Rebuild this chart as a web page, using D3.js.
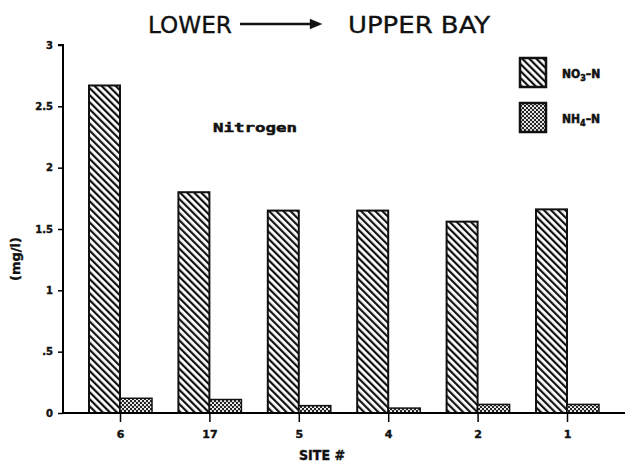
<!DOCTYPE html>
<html>
<head>
<meta charset="utf-8">
<script src="https://cdn.jsdelivr.net/npm/d3@7"></script>
<style>
  body { margin: 0; background: #fff; }
  svg { display: block; }
  text { fill: #111; }
</style>
</head>
<body>
<svg id="chart" width="627" height="464"></svg>
<script>
// sites, lower bay -> upper bay
const sites = ['6', '17', '5', '4', '2', '1'];
const no3 = [2.67, 1.80, 1.65, 1.65, 1.56, 1.66];
const nh4 = [0.12, 0.11, 0.06, 0.04, 0.07, 0.07];
const yTicks = [0, 0.5, 1, 1.5, 2, 2.5, 3];
const yTickLabels = ['0', '.5', '1', '1.5', '2', '2.5', '3'];

const svg = d3.select('#chart');
const x0 = 63, yBase = 413;

const x = d3.scalePoint().domain(sites).range([120, 567]);
const y = d3.scaleLinear().domain([0, 3]).range([yBase, 45]);
const barW = 31;

// patterns
const defs = svg.append('defs');
const hatch = defs.append('pattern')
    .attr('id', 'hatch')
    .attr('patternUnits', 'userSpaceOnUse')
    .attr('width', 5).attr('height', 5)
    .attr('patternTransform', 'rotate(-45)');
hatch.append('rect').attr('width', 5).attr('height', 5).attr('fill', '#fff');
hatch.append('rect').attr('x', 0).attr('width', 2.2).attr('height', 5).attr('fill', '#111');

const dots = defs.append('pattern')
    .attr('id', 'dots')
    .attr('patternUnits', 'userSpaceOnUse')
    .attr('width', 4).attr('height', 4);
dots.append('rect').attr('width', 4).attr('height', 4).attr('fill', '#222');
dots.append('circle').attr('cx', 1).attr('cy', 1).attr('r', 1.1).attr('fill', '#fff');
dots.append('circle').attr('cx', 3).attr('cy', 3).attr('r', 1.1).attr('fill', '#fff');

// bars
const g = svg.append('g');
g.selectAll('.no3').data(sites).join('rect')
    .attr('class', 'no3')
    .attr('x', d => x(d) - barW)
    .attr('y', (d, i) => y(no3[i]))
    .attr('width', barW)
    .attr('height', (d, i) => yBase - y(no3[i]))
    .attr('fill', 'url(#hatch)')
    .attr('stroke', '#111').attr('stroke-width', 2);

g.selectAll('.nh4').data(sites).join('rect')
    .attr('class', 'nh4')
    .attr('x', d => x(d))
    .attr('y', (d, i) => y(nh4[i]))
    .attr('width', barW + 1)
    .attr('height', (d, i) => yBase - y(nh4[i]))
    .attr('fill', 'url(#dots)')
    .attr('stroke', '#111').attr('stroke-width', 1.5);

// y axis
const yAxis = svg.append('g')
    .attr('transform', `translate(${x0},0)`)
    .call(d3.axisLeft(y).tickValues(yTicks)
        .tickFormat((d, i) => yTickLabels[i]).tickSize(5).tickPadding(5));
yAxis.select('.domain').attr('d', `M-5,${y(3)}H0V${yBase}`).attr('stroke-width', 2);
yAxis.selectAll('line').attr('stroke-width', 1.5);
yAxis.selectAll('text')
    .attr('font-family', 'DejaVu Sans')
    .attr('font-weight', 'bold')
    .attr('font-size', 10)
    .attr('stroke', '#111').attr('stroke-width', 0.4);

// x axis
const xAxis = svg.append('g')
    .attr('transform', `translate(0,${yBase})`)
    .call(d3.axisBottom(x).tickSize(9).tickPadding(8));
xAxis.select('.domain').attr('d', `M${x0},0H625`).attr('stroke-width', 2);
xAxis.selectAll('line').attr('stroke-width', 1.5);
xAxis.selectAll('text')
    .attr('font-family', 'DejaVu Sans')
    .attr('font-weight', 'bold')
    .attr('font-size', 11)
    .attr('stroke', '#111').attr('stroke-width', 0.4);

// labels
svg.append('text')
    .attr('x', 322).attr('y', 460)
    .attr('text-anchor', 'middle')
    .attr('font-family', 'DejaVu Sans Condensed, DejaVu Sans')
    .attr('font-weight', 'bold')
    .attr('font-size', 14)
    .attr('stroke', '#111').attr('stroke-width', 0.4)
    .text('SITE #');

svg.append('text')
    .attr('transform', 'translate(20,259) rotate(-90)')
    .attr('text-anchor', 'middle')
    .attr('font-family', 'DejaVu Sans')
    .attr('font-weight', 'bold')
    .attr('font-size', 13)
    .attr('stroke', '#111').attr('stroke-width', 0.4)
    .text('(mg/l)');

// title
const title = svg.append('g')
    .attr('font-family', 'DejaVu Sans Condensed, DejaVu Sans')
    .attr('font-size', 23)
    .attr('stroke', '#111').attr('stroke-width', 0.3);
title.append('text').attr('x', 148).attr('y', 33)
    .attr('textLength', 84).attr('lengthAdjust', 'spacingAndGlyphs').text('LOWER');
title.append('line').attr('x1', 240).attr('x2', 312).attr('y1', 24).attr('y2', 24)
    .attr('stroke', '#111').attr('stroke-width', 2.5);
title.append('path').attr('d', 'M310,19L322,24L310,29Z').attr('fill', '#111');
title.append('text').attr('x', 348).attr('y', 33)
    .attr('textLength', 142).attr('lengthAdjust', 'spacingAndGlyphs').text('UPPER BAY');

svg.append('text')
    .attr('x', 213).attr('y', 132)
    .attr('font-family', 'DejaVu Sans Mono')
    .attr('font-weight', 'bold')
    .attr('font-size', 13)
    .attr('textLength', 84)
    .attr('lengthAdjust', 'spacingAndGlyphs')
    .attr('stroke', '#111').attr('stroke-width', 0.5)
    .text('Nitrogen');

// legend
const legend = [
    {fill: 'url(#hatch)', y: 58, label: 'NO', sub: '3', tail: '–N'},
    {fill: 'url(#dots)', y: 103, label: 'NH', sub: '4', tail: '–N'}
];
const lg = svg.selectAll('.leg').data(legend).join('g')
    .attr('class', 'leg')
    .attr('transform', d => `translate(520,${d.y})`);
lg.append('rect')
    .attr('width', 26).attr('height', 29)
    .attr('fill', d => d.fill)
    .attr('stroke', '#111').attr('stroke-width', 2.5);
const lt = lg.append('text')
    .attr('x', 42).attr('y', 20)
    .attr('font-family', 'DejaVu Sans Condensed, DejaVu Sans')
    .attr('font-weight', 'bold')
    .attr('font-size', 12)
    .attr('stroke', '#111').attr('stroke-width', 0.5);
lt.append('tspan').text(d => d.label);
lt.append('tspan').attr('dy', 3).attr('font-size', 9).text(d => d.sub);
lt.append('tspan').attr('dy', -3).text(d => d.tail);
</script>
</body>
</html>
